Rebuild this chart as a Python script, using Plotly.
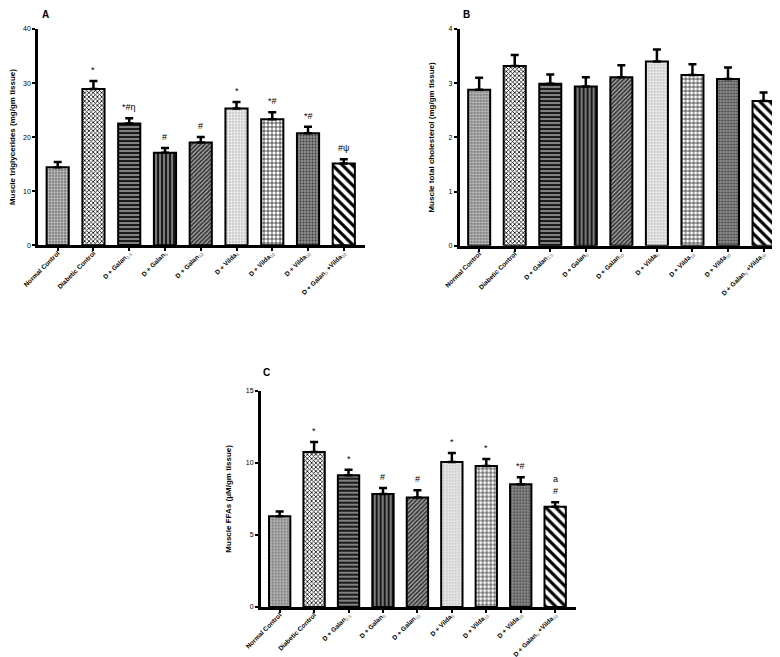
import plotly.graph_objects as go

categories = ["Normal Control", "Diabetic Control", "D + Galan<sub>2.5</sub>", "D + Galan<sub>5</sub>",
              "D + Galan<sub>10</sub>", "D + Vilda<sub>5</sub>", "D + Vilda<sub>10</sub>",
              "D + Vilda<sub>30</sub>", "D + Galan<sub>5</sub> +Vilda<sub>30</sub>"]

tg_mean = [14.4, 28.9, 22.5, 17.1, 19.0, 25.3, 23.3, 20.7, 15.1]
tg_sem = [1.0, 1.5, 1.0, 0.9, 1.0, 1.2, 1.3, 1.2, 0.8]
tg_sig = ["", "*", "*#η", "#", "#", "*", "*#", "*#", "#ψ"]

tc_mean = [2.88, 3.32, 2.99, 2.94, 3.11, 3.40, 3.15, 3.08, 2.67]
tc_sem = [0.22, 0.20, 0.17, 0.17, 0.22, 0.22, 0.20, 0.21, 0.16]

ffa_mean = [6.29, 10.75, 9.13, 7.84, 7.59, 10.06, 9.78, 8.51, 6.96]
ffa_sem = [0.33, 0.69, 0.39, 0.42, 0.50, 0.62, 0.49, 0.48, 0.30]
ffa_sig = ["", "*", "*", "#", "#", "*", "*", "*#", "a<br>#"]

tick_A = [0, 10, 20, 30, 40]
tick_B = [0, 1, 2, 3, 4]
tick_C = [0, 5, 10, 15]

FONT = "Liberation Sans"

pat_shape = [".", "x", "-", "|", "/", ".", "+", ".", "\\"]
pat_bg = ["#7a7a7a", "white", "#1a1a1a", "#1a1a1a", "#3a3a3a", "#c8c8c8", "white", "#8c8c8c", "white"]
pat_fg = ["#c8c8c8", "black", "#c8c8c8", "#bbbbbb", "#bdbdbd", "#f4f4f4", "black", "#3c3c3c", "black"]
pat_size = [3, 3, 4, 4, 3, 3, 4, 3, 7]
pat_sol = [0.45, 0.45, 0.3, 0.3, 0.35, 0.45, 0.3, 0.3, 0.45]


def ticktext(lbl):
    return lbl.replace("<sub>", "<sub><span style='color:#9a9a9a'>").replace("</sub>", "</span></sub>")


fig = go.Figure()


def add_panel(means, sems, xa, ya):
    for i, (c, m, s) in enumerate(zip(categories, means, sems)):
        fig.add_trace(go.Bar(
            x=[c], y=[m], xaxis=xa, yaxis=ya, width=0.62,
            marker=dict(color=pat_bg[i], line=dict(color="black", width=2),
                        pattern=dict(shape=pat_shape[i], bgcolor=pat_bg[i], fgcolor=pat_fg[i],
                                     size=pat_size[i], solidity=pat_sol[i], fillmode="replace")),
            error_y=dict(type="data", symmetric=False, array=[s], arrayminus=[0],
                         thickness=2.5, width=4, color="black"),
            showlegend=False, hoverinfo="skip"))


add_panel(tg_mean, tg_sem, "x", "y")
add_panel(tc_mean, tc_sem, "x2", "y2")
add_panel(ffa_mean, ffa_sem, "x3", "y3")


def xax(domain, anchor):
    return dict(domain=domain, anchor=anchor, type="category", range=[-0.55, 8.6],
                categoryorder="array", categoryarray=categories,
                tickvals=categories, ticktext=[ticktext(c) for c in categories],
                showline=True, linecolor="black", linewidth=2.5, ticks="outside",
                ticklen=3, tickwidth=1.5, tickcolor="black", tickangle=-45, automargin=False,
                ticklabelstandoff=-4,
                tickfont=dict(family=FONT, size=6.5, color="black", weight="bold"),
                showgrid=False, zeroline=False, fixedrange=True)


def yax(domain, anchor, rng, tv, title):
    return dict(domain=domain, anchor=anchor, range=rng, tickvals=tv, automargin=False,
                showline=True, linecolor="black", linewidth=2.5, ticks="outside",
                ticklen=3, tickwidth=1.5, tickcolor="black",
                tickfont=dict(family=FONT, size=7, color="black"),
                title=dict(text=title, font=dict(family=FONT, size=8, color="black", weight="bold"), standoff=13),
                showgrid=False, zeroline=False, fixedrange=True)


fig.update_layout(
    width=780, height=657, margin=dict(l=0, r=0, t=0, b=0),
    paper_bgcolor="white", plot_bgcolor="white", barmode="overlay",
    xaxis=xax([0.0385, 0.458], "y"),
    yaxis=yax([0.639, 0.968], "x", [0, 40], tick_A, "Muscle triglycerides (mg/gm tissue)"),
    xaxis2=xax([0.579, 0.996], "y2"),
    yaxis2=yax([0.638, 0.968], "x2", [0, 4], tick_B, "Muscle total cholesterol (mg/gm tissue)"),
    xaxis3=xax([0.324, 0.728], "y3"),
    yaxis3=yax([0.0883, 0.4175], "x3", [0, 15], tick_C, "Muscle FFAs (μM/gm tissue)"),
)

for cat, m, s, t in zip(categories, tg_mean, tg_sem, tg_sig):
    if t:
        fig.add_annotation(x=cat, y=m + s, xref="x", yref="y", text=t, showarrow=False,
                           yanchor="bottom", yshift=4, font=dict(family=FONT, size=9, color="black"))
for cat, m, s, t in zip(categories, ffa_mean, ffa_sem, ffa_sig):
    if t:
        fig.add_annotation(x=cat, y=m + s, xref="x3", yref="y3", text=t, showarrow=False,
                           yanchor="bottom", yshift=4, font=dict(family=FONT, size=9, color="black"))

for lbl, xp, yp in [("A", 37 / 780, 1 - 6 / 657), ("B", 458 / 780, 1 - 6 / 657), ("C", 258 / 780, 1 - 364 / 657)]:
    fig.add_annotation(x=xp, y=yp, xref="paper", yref="paper", text=lbl, showarrow=False,
                       xanchor="center", yanchor="middle",
                       font=dict(family=FONT, size=10, color="black", weight="bold"))

fig.write_html("out.html")
